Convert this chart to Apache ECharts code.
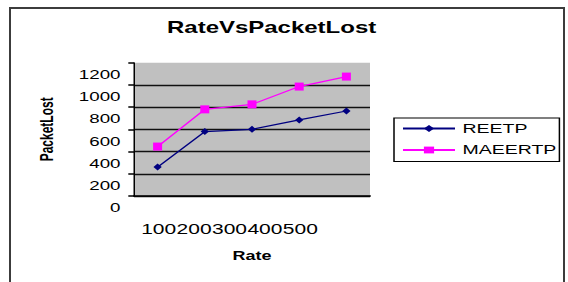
<!DOCTYPE html>
<html>
<head>
<meta charset="utf-8">
<title>RateVsPacketLost</title>
<script src="https://cdn.jsdelivr.net/npm/echarts@6/dist/echarts.min.js"></script>
<style>
    html, body { margin: 0; padding: 0; background: #fff; overflow: hidden; }
    #frame { position: absolute; left: 9px; top: 7px; width: 552px; height: 300px; border: 2px solid #3c3c3c; }
    /* the reference is stretched sideways, so the chart is drawn narrow and widened */
    #main { position: absolute; left: 0; top: 0; width: 379px; height: 282px; transform-origin: 0 0; transform: scaleX(1.5); }
</style>
</head>
<body>
<div id="frame"></div>
<div id="main"></div>
<script>
const rates = ['100', '200', '300', '400', '500'];
const reetp = [260, 580, 600, 685, 765];
const maeertp = [445, 780, 825, 985, 1075];
const yTicks = [0, 200, 400, 600, 800, 1000, 1200];

const S = 1.5;
const px = v => v / S;   // final x position -> unscaled x
const font = 'Liberation Sans, Arial, sans-serif';

function getChart() {
    let chartDom = document.getElementById('main');
    let myChart = echarts.init(chartDom, null, { renderer: 'svg' });
    let option;

    option = {
        animation: false,
        title: {
            text: 'RateVsPacketLost',
            left: px(167),
            top: 20,
            padding: 0,
            textStyle: { fontFamily: font, fontSize: 16, fontWeight: 'bold', color: '#000' }
        },
        legend: {
            orient: 'vertical',
            left: px(394),
            top: 118,
            padding: [4, 2, 5, 5],
            itemGap: 8.5,
            itemWidth: px(52),
            itemHeight: 8.5,
            backgroundColor: '#fff',
            borderColor: '#000',
            borderWidth: 1,
            textStyle: { fontFamily: font, fontSize: 13, color: '#000' },
            data: ['REETP', 'MAEERTP']
        },
        grid: [{
            left: px(134),
            top: 62.7,
            width: px(236),
            height: 133.3,
            show: true,
            backgroundColor: '#c0c0c0',
            borderWidth: 0,
            outerBoundsMode: 'none'
        }, {
            left: px(141),
            top: 150,
            width: px(177),
            height: 60,
            outerBoundsMode: 'none'
        }],
        xAxis: [{
            type: 'category',
            data: rates,
            boundaryGap: true,
            name: 'Rate',
            nameLocation: 'middle',
            nameGap: 54,
            nameTextStyle: { fontFamily: font, fontSize: 12, fontWeight: 'bold', color: '#000' },
            axisLine: { lineStyle: { color: '#000', width: 1.5 } },
            axisTick: { length: 5.7, lineStyle: { color: '#000', width: 1 } },
            axisLabel: { show: false }
        }, {
            // the tick labels sit run together under the plot
            gridIndex: 1,
            type: 'category',
            data: rates,
            axisLine: { show: false },
            axisTick: { show: false },
            axisLabel: { interval: 0, margin: 12, fontFamily: font, fontSize: 14, color: '#000' }
        }],
        yAxis: [{
            type: 'value',
            min: yTicks[0],
            max: yTicks[yTicks.length - 1],
            interval: yTicks[1] - yTicks[0],
            name: 'PacketLost',
            nameLocation: 'middle',
            nameGap: 52,
            nameTextStyle: { fontFamily: font, fontSize: 12, fontWeight: 'bold', color: '#000' },
            axisLine: { show: true, lineStyle: { color: '#000', width: 1 } },
            axisTick: { show: true, inside: false, length: px(5.7), lineStyle: { color: '#000', width: 1.5 } },
            axisLabel: {
                margin: 9,
                formatter: v => String(v),
                showMinLabel: true,
                showMaxLabel: true,
                hideOverlap: false,
                verticalAlign: 'top',
                lineHeight: 12,
                padding: [6, 0, 0, 0],
                fontFamily: font,
                fontSize: 12.5,
                color: '#000'
            },
            splitLine: { show: true, showMaxLine: false, lineStyle: { color: '#111', width: 1.3 } }
        }, {
            gridIndex: 1,
            type: 'value',
            show: false
        }],
        series: [{
            name: 'REETP',
            type: 'line',
            data: reetp,
            color: '#000080',
            symbol: 'diamond',
            symbolSize: [px(8.3), 7],
            lineStyle: { color: '#000080', width: 1.2 },
            itemStyle: { color: '#000080' }
        }, {
            name: 'MAEERTP',
            type: 'line',
            data: maeertp,
            color: '#ff00ff',
            symbol: 'rect',
            symbolSize: [px(9), 8],
            lineStyle: { color: '#ff00ff', width: 1.2 },
            itemStyle: { color: '#ff00ff' }
        }]
    };
    option && myChart.setOption(option);
}

window.addEventListener('load', getChart);
</script>
</body>
</html>
